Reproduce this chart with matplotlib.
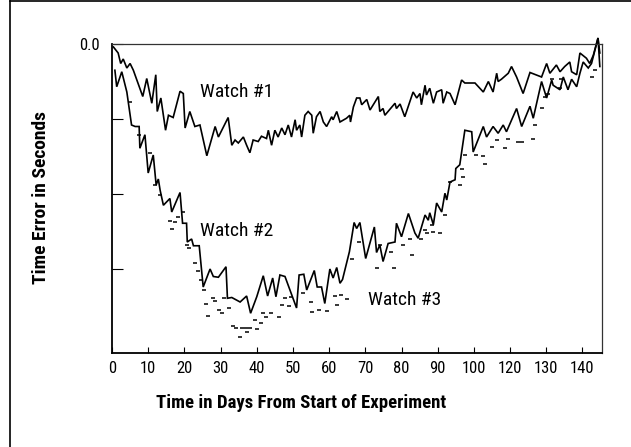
import matplotlib
matplotlib.use("Agg")
import matplotlib.pyplot as plt
from matplotlib import font_manager
from matplotlib.lines import Line2D

names = {f.name for f in font_manager.fontManager.ttflist}
FONT = 'DejaVu Sans'
for cand in ['Liberation Sans Narrow', 'Arial Narrow', 'Roboto Condensed', 'Archivo Narrow', 'PT Sans Narrow']:
    if cand in names:
        FONT = cand
        break
plt.rcParams['font.family'] = [FONT, 'DejaVu Sans']

# ---------------- data ----------------
w1_days = [0.4, 1.7, 2.4, 3.1, 4.1, 5.0, 5.9, 8.5, 9.6, 11.0, 12.1, 12.5, 13.5, 14.8, 15.6,
           16.9, 18.8, 19.7, 20.2, 21.5, 22.9, 24.3, 26.2, 28.5, 29.4, 32.1, 33.1, 34.0, 34.9,
           36.3, 37.2, 38.1, 39.0, 40.4, 41.3, 42.7, 43.2, 44.1, 45.0, 45.9, 46.9, 47.8, 48.7,
           49.6, 50.6, 51.0, 51.9, 52.4, 53.3, 54.2, 55.2, 55.6, 56.5, 57.5, 58.4, 59.3, 60.7,
           61.1, 62.1, 63.0, 64.8, 65.7, 65.9, 66.7, 67.6, 68.5, 69.0, 70.4, 71.3, 73.6, 74.0,
           74.9, 75.4, 78.2, 78.6, 79.6, 80.9, 83.2, 84.2, 85.1, 85.5, 86.5, 86.9, 87.8, 88.8,
           89.7, 91.1, 91.5, 92.5, 93.4, 94.8, 96.6, 97.5, 100.3, 102.6, 104.0, 105.3, 106.3,
           106.7, 107.6, 109.5, 110.4, 111.8, 113.6, 115.5, 118.7, 120.1, 121.0, 122.8, 123.8,
           125.1, 126.5, 127.0, 128.4, 129.3, 131.1, 132.0, 133.0, 134.3, 134.8]
w1_vals = [-0.04, -0.12, -0.26, -0.20, -0.32, -0.26, -0.35, -0.70, -0.46, -0.79, -0.41, -0.90,
           -0.72, -1.15, -0.95, -0.98, -0.63, -0.66, -1.12, -0.90, -1.10, -1.08, -1.49, -1.10,
           -1.24, -0.98, -1.35, -1.28, -1.32, -1.24, -1.35, -1.45, -1.28, -1.30, -1.23, -1.26,
           -1.15, -1.35, -1.15, -1.24, -1.12, -1.21, -1.08, -1.24, -1.01, -1.15, -1.08, -1.24,
           -0.95, -0.90, -0.95, -1.19, -0.97, -0.90, -1.04, -1.10, -0.97, -1.01, -0.90, -1.04,
           -0.99, -0.95, -1.04, -0.84, -0.72, -0.72, -0.81, -0.74, -0.88, -0.70, -0.90, -0.86,
           -0.95, -0.79, -0.86, -0.80, -0.97, -0.64, -0.72, -0.66, -0.81, -0.55, -0.68, -0.59,
           -0.79, -0.64, -0.61, -0.79, -0.64, -0.66, -0.81, -0.48, -0.52, -0.52, -0.64, -0.50,
           -0.64, -0.39, -0.50, -0.47, -0.39, -0.30, -0.44, -0.66, -0.38, -0.44, -0.26, -0.39,
           -0.28, -0.37, -0.30, -0.24, -0.37, -0.41, -0.12, -0.19, -0.26, -0.15, 0.08, -0.30]

w2_days = [0.8, 1.3, 2.7, 4.1, 5.4, 6.4, 7.5, 7.7, 9.1, 10.0, 11.4, 12.2, 12.8, 13.3, 14.2,
           16.0, 16.5, 18.8, 19.5, 20.6, 20.8, 22.0, 22.5, 24.1, 25.2, 27.1, 28.0, 29.4, 31.5,
           31.9, 33.1, 35.4, 37.2, 38.3, 40.0, 41.8, 43.0, 44.4, 45.3, 46.4, 47.8, 51.0, 51.7,
           53.0, 53.8, 55.9, 56.7, 57.9, 58.8, 60.2, 61.1, 62.1, 63.0, 63.7, 65.6, 66.9, 67.6,
           68.5, 70.1, 72.5, 73.1, 74.0, 74.9, 76.3, 78.2, 78.6, 80.0, 81.9, 83.7, 84.6, 86.5,
           87.4, 87.8, 88.8, 89.7, 91.1, 92.0, 92.5, 93.4, 94.8, 95.0, 96.1, 97.5, 99.4, 99.8,
           102.6, 103.5, 105.3, 106.7, 108.1, 109.0, 111.8, 113.2, 115.5, 116.4, 118.7, 120.1,
           121.5, 121.9, 123.8, 124.7, 126.0, 127.0, 128.4, 129.3, 130.2, 131.6, 132.5, 134.3,
           134.8]
w2_vals = [-0.35, -0.57, -0.37, -0.64, -1.08, -1.10, -1.10, -1.39, -1.21, -1.72, -1.48, -1.88,
           -1.80, -1.95, -2.15, -2.06, -2.24, -1.98, -2.39, -2.39, -2.64, -2.60, -2.69, -2.69,
           -3.24, -3.00, -3.10, -3.11, -2.97, -3.39, -3.38, -3.44, -3.36, -3.59, -3.37, -3.09,
           -3.36, -3.12, -3.37, -3.08, -3.10, -3.52, -3.08, -3.07, -3.28, -3.02, -3.24, -3.24,
           -3.46, -3.00, -3.12, -2.98, -3.19, -3.14, -2.77, -2.38, -2.46, -2.38, -2.86, -2.44,
           -2.78, -2.68, -2.90, -2.66, -2.64, -2.39, -2.57, -2.26, -2.52, -2.59, -2.28, -2.35,
           -2.25, -2.41, -2.12, -2.24, -1.99, -2.08, -1.84, -1.81, -1.66, -1.61, -1.15, -1.17,
           -1.44, -1.10, -1.24, -1.10, -1.19, -1.08, -1.17, -0.86, -1.10, -0.83, -0.99, -0.50,
           -0.72, -0.48, -0.55, -0.61, -0.44, -0.61, -0.47, -0.57, -0.39, -0.24, -0.32, -0.26,
           0.08, -0.12]

w3_days = [5.0, 7.5, 10.5, 11.9, 13.4, 16.0, 16.5, 17.4, 18.3, 19.7, 20.6, 21.4, 22.9, 23.7,
           24.5, 25.4, 26.0, 26.6, 28.0, 28.5, 29.6, 30.5, 30.9, 32.4, 33.5, 34.4, 35.4, 36.0,
           36.9, 37.3, 38.1, 39.5, 40.0, 41.1, 41.8, 42.5, 43.8, 46.1, 46.9, 47.8, 49.0, 49.6,
           52.8, 54.9, 55.4, 57.2, 59.3, 61.6, 62.2, 63.2, 65.0, 66.4, 68.3, 73.3, 74.0, 77.0,
           77.8, 80.5, 82.3, 82.8, 85.5, 86.5, 87.0, 88.3, 88.8, 90.6, 92.0, 93.4, 96.1, 96.6,
           97.1, 97.5, 100.7, 102.6, 103.2, 104.9, 106.3, 108.6, 109.5, 112.2, 113.2, 116.4,
           116.8, 118.7, 119.6, 120.5, 121.7, 123.8, 124.2, 132.5, 133.4]
w3_vals = [-0.77, -1.21, -1.45, -1.88, -2.01, -2.36, -2.47, -2.37, -2.31, -2.24, -2.68, -2.72,
           -2.92, -3.02, -3.15, -3.28, -3.47, -3.62, -3.39, -3.43, -3.54, -3.59, -3.39, -3.52,
           -3.76, -3.79, -3.90, -3.78, -3.78, -3.84, -3.79, -3.68, -3.80, -3.72, -3.58, -3.64,
           -3.58, -3.64, -3.48, -3.38, -3.49, -3.37, -3.32, -3.44, -3.57, -3.55, -3.56, -3.36,
           -3.48, -3.34, -3.40, -2.86, -2.64, -2.99, -2.68, -2.77, -2.99, -2.68, -2.60, -2.81,
           -2.60, -2.48, -2.52, -2.41, -2.50, -2.52, -2.28, -1.84, -1.88, -1.66, -1.77, -1.48,
           -1.48, -1.49, -1.60, -1.37, -1.28, -1.39, -1.26, -1.30, -1.30, -1.26, -1.08, -0.85,
           -0.70, -0.67, -0.47, -0.58, -0.47, -0.44, -0.34]

x_tick_pos = [0, 10, 20, 30, 40, 50, 60, 70, 80, 90, 100, 110, 120, 130]
x_tick_labels = ['0', '10', '20', '30', '40', '50', '60', '70', '80', '90', '100', '120', '130', '140']
y_tick_pos = [0, -1, -2, -3]
y_tick_labels = ['0.0', '', '', '']
series_labels = ['Watch #1', 'Watch #2', 'Watch #3']
x_title = 'Time in Days From Start of Experiment'
y_title = 'Time Error in Seconds'

# ---------------- figure ----------------
W, H = 631, 447
fig = plt.figure(figsize=(W / 100, H / 100), dpi=100)
ax = fig.add_axes([112 / W, 1 - 353 / H, (602 - 112) / W, (353 - 44) / H])

ax.plot(w1_days, w1_vals, color='black', lw=1.2, clip_on=False, solid_joinstyle='miter')
ax.plot(w2_days, w2_vals, color='black', lw=1.2, clip_on=False, solid_joinstyle='miter')
ax.plot(w3_days, w3_vals, linestyle='none', marker='_', ms=2.6, mew=1.1, color='black')

ax.set_xlim(0, 135.4)
ax.set_ylim(-4.12, 0)
ax.set_xticks(x_tick_pos)
ax.set_xticklabels(x_tick_labels, fontsize=12)
ax.set_yticks(y_tick_pos)
ax.set_yticklabels(y_tick_labels, fontsize=12)
ax.tick_params(axis='x', direction='in', length=4.5, width=0.8, pad=6)
ax.tick_params(axis='y', direction='in', length=8, width=0.8, pad=9)

for s in ['left', 'bottom']:
    ax.spines[s].set_linewidth(1.3)
for s in ['top', 'right']:
    ax.spines[s].set_linewidth(0.9)
    ax.spines[s].set_color('#333333')

# series labels
lab_pos = [(237, 92), (237, 231), (405, 300)]
for (px, py), t in zip(lab_pos, series_labels):
    fig.text(px / W, 1 - py / H, t, fontsize=14, ha='center', va='center')

fig.text(301 / W, 1 - 403 / H, x_title, fontsize=13.5, fontweight='bold', ha='center', va='center')
fig.text(41 / W, 1 - 197 / H, y_title, fontsize=14, fontweight='bold', ha='center', va='center',
         rotation=90)

# outer frame (left and top edges visible)
fig.add_artist(Line2D([10 / W, 10 / W], [0, 1 - 1 / H], transform=fig.transFigure, color='black', lw=1.2))
fig.add_artist(Line2D([10 / W, 1], [1 - 1 / H, 1 - 1 / H], transform=fig.transFigure, color='black', lw=1.2))

fig.savefig('out.png', dpi=100)
